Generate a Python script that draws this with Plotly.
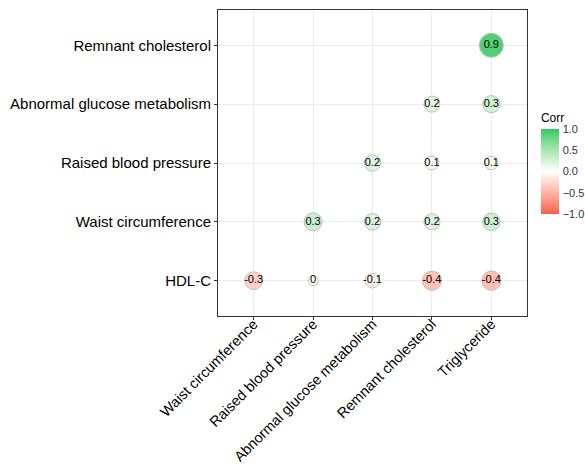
import plotly.graph_objects as go
import numpy as np

x_vars = ["Waist circumference", "Raised blood pressure", "Abnormal glucose metabolism",
          "Remnant cholesterol", "Triglyceride"]
y_vars = ["HDL-C", "Waist circumference", "Raised blood pressure",
          "Abnormal glucose metabolism", "Remnant cholesterol"]

# correlation estimates per row (y), columns in x_vars order; None = not shown
corr_hdl = [-0.30, -0.03, -0.12, -0.40, -0.41]
corr_waist = [None, 0.31, 0.22, 0.20, 0.28]
corr_rbp = [None, None, 0.21, 0.09, 0.08]
corr_agm = [None, None, None, 0.19, 0.26]
corr_rc = [None, None, None, None, 0.90]
rows = [corr_hdl, corr_waist, corr_rbp, corr_agm, corr_rc]

legend_ticks = [-1.0, -0.5, 0.0, 0.5, 1.0]
legend_ticktext = ["\u22121.0", "\u22120.5", "0.0", "0.5", "1.0"]

LOW = "#F4604C"
MID = "#FFFFFF"
HIGH = "#2DC965"

# --- Lab interpolation to mimic ggplot gradient2 ---
def hex2rgb(h):
    h = h.lstrip("#")
    return [int(h[i:i+2], 16) / 255 for i in (0, 2, 4)]

def srgb2lin(c):
    return c / 12.92 if c <= 0.04045 else ((c + 0.055) / 1.055) ** 2.4

def lin2srgb(c):
    c = min(max(c, 0), 1)
    return 12.92 * c if c <= 0.0031308 else 1.055 * c ** (1 / 2.4) - 0.055

M = np.array([[0.4124, 0.3576, 0.1805], [0.2126, 0.7152, 0.0722], [0.0193, 0.1192, 0.9505]])
Minv = np.linalg.inv(M)
WP = np.array([0.95047, 1.0, 1.08883])

def f(t):
    return t ** (1 / 3) if t > (6 / 29) ** 3 else t / (3 * (6 / 29) ** 2) + 4 / 29

def finv(t):
    return t ** 3 if t > 6 / 29 else 3 * (6 / 29) ** 2 * (t - 4 / 29)

def rgb2lab(rgb):
    xyz = M @ np.array([srgb2lin(c) for c in rgb]) / WP
    fx, fy, fz = [f(v) for v in xyz]
    return np.array([116 * fy - 16, 500 * (fx - fy), 200 * (fy - fz)])

def lab2hex(lab):
    L, a, b = lab
    fy = (L + 16) / 116
    fx = fy + a / 500
    fz = fy - b / 200
    xyz = np.array([finv(fx), finv(fy), finv(fz)]) * WP
    lin = Minv @ xyz
    rgb = [round(lin2srgb(c) * 255) for c in lin]
    return "#%02X%02X%02X" % tuple(rgb)

lab_low, lab_mid, lab_high = rgb2lab(hex2rgb(LOW)), rgb2lab(hex2rgb(MID)), rgb2lab(hex2rgb(HIGH))
colorscale = []
n = 20
for i in range(n + 1):
    t = i / n
    if t <= 0.5:
        s = t / 0.5
        lab = lab_low + (lab_mid - lab_low) * s
    else:
        s = (t - 0.5) / 0.5
        lab = lab_mid + (lab_high - lab_mid) * s
    colorscale.append([t, lab2hex(lab)])

xs, ys, vals, labels = [], [], [], []
for yi, row in enumerate(rows):
    for xi, v in enumerate(row):
        if v is None:
            continue
        xs.append(x_vars[xi])
        ys.append(y_vars[yi])
        vals.append(v)
        r = round(v, 1)
        labels.append("0" if r == 0 else ("%g" % r))

# ggplot scale_size (area palette): diameter linear in sqrt of rescaled |r|
absv = np.abs(vals)
amin, amax = absv.min(), absv.max()
sizes = 10 + 14 * np.sqrt((absv - amin) / (amax - amin))

FONT = "Liberation Sans, Arial"

fig = go.Figure()
fig.add_trace(go.Scatter(
    x=xs, y=ys, mode="markers+text",
    text=labels, textposition="middle center",
    textfont=dict(size=11, color="black", family=FONT),
    marker=dict(
        size=sizes, color=vals, cmin=-1, cmax=1, colorscale=colorscale,
        line=dict(color="#BEBEBE", width=1), opacity=1,
        colorbar=dict(
            title=dict(text="Corr", side="top", font=dict(size=12, color="black")),
            tickvals=legend_ticks, ticktext=legend_ticktext,
            tickfont=dict(size=11, color="#333333"),
            ticks="outside", tickcolor="rgba(255,255,255,0)", ticklen=2,
            thickness=18, lenmode="pixels", len=104,
            x=1.045, xanchor="left", y=0.333, yanchor="bottom",
            xpad=0, ypad=0, outlinewidth=0,
        ),
    ),
    hoverinfo="skip", showlegend=False, cliponaxis=False,
))

axis_common = dict(
    type="category", showgrid=True, gridcolor="#EBEBEB", gridwidth=1,
    showline=True, linecolor="#333333", linewidth=1, mirror=True,
    ticks="outside", ticklen=3, tickcolor="#333333", zeroline=False,
    automargin=False,
)
fig.update_xaxes(categoryorder="array", categoryarray=x_vars, range=[-0.6, 4.6],
                 tickangle=-45, tickfont=dict(size=14.5, color="black"),
                 ticklabelstandoff=-10, **axis_common)
fig.update_yaxes(categoryorder="array", categoryarray=y_vars, range=[-0.6, 4.6],
                 tickfont=dict(size=15, color="black"), **axis_common)

fig.update_layout(
    width=585, height=471,
    margin=dict(l=218, r=58, t=10, b=155, autoexpand=False),
    plot_bgcolor="white", paper_bgcolor="white",
    font=dict(family=FONT, color="black"),
)

fig.write_html("out.html", config={"displayModeBar": False},
               post_script="document.body.style.margin='0px';document.body.style.overflow='hidden';")
